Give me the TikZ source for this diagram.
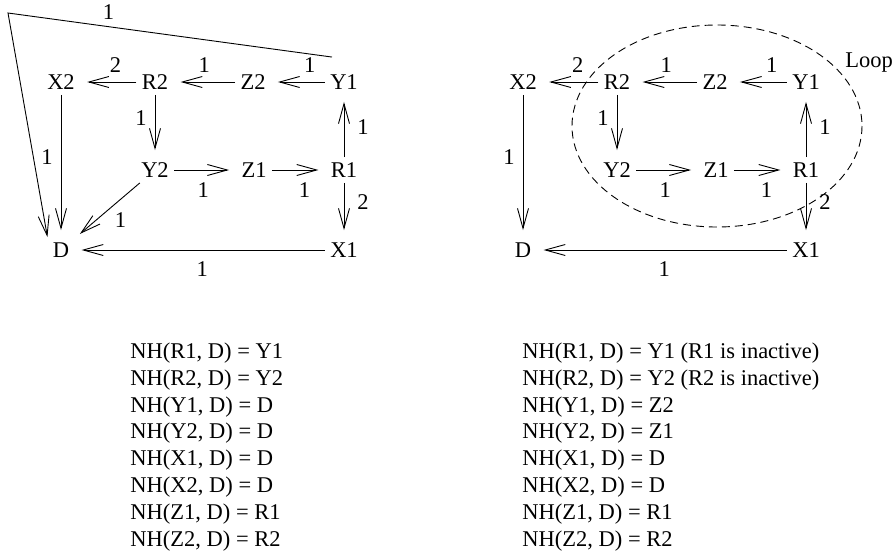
\documentclass[tikz,border=0pt]{standalone}
\usepackage{fontspec}
\setmainfont{Liberation Serif}
\usetikzlibrary{arrows.meta}

\begin{document}
\begin{tikzpicture}[x=1pt, y=-1pt, line width=0.9pt,
    >={Straight Barb[length=20pt, width=11pt]},
    font=\fontsize{22.5}{27}\selectfont,
    router/.style={inner xsep=5pt, inner ysep=5pt, text height=15pt, text depth=0pt},
    hop/.style={->, shorten >=7pt},
    cost/.style={inner sep=0pt}]
    \useasboundingbox (0,0) rectangle (894,552);

    % the same network twice, the right copy 462pt further on
    \foreach \s/\dx in {l/0, r/462} {
    \begin{scope}[xshift=\dx]
        \node[router] (\s X2) at (61,82) {X2};
        \node[router] (\s R2) at (155,82) {R2};
        \node[router] (\s Z2) at (253,82) {Z2};
        \node[router] (\s Y1) at (344,82) {Y1};
        \node[router] (\s Y2) at (155,170) {Y2};
        \node[router] (\s Z1) at (254,170) {Z1};
        \node[router] (\s R1) at (344,170) {R1};
        \node[router] (\s D) at (61,250) {D};
        \node[router] (\s X1) at (344,250) {X1};

        \draw[hop] (\s Y1) -- node[cost, above=9pt, pos=0.28] (\s c1) {1} (\s Z2);
        \draw[hop] (\s Z2) -- node[cost, above=9pt, pos=0.5] (\s c2) {1} (\s R2);
        \draw[hop] (\s R2) -- node[cost, above=9pt, pos=0.37] (\s c3) {2} (\s X2);
        \draw[hop] (\s R2) -- node[cost, left=8pt, pos=0.37] (\s c4) {1} (\s Y2);
        \draw[hop] (\s R1) -- node[cost, right=13pt, pos=0.48] (\s c5) {1} (\s Y1);
        \draw[hop] (\s Y2) -- node[cost, below=12pt, pos=0.47] (\s c6) {1} (\s Z1);
        \draw[hop] (\s Z1) -- node[cost, below=12pt, pos=0.61] (\s c7) {1} (\s R1);
        \draw[hop] (\s R1) -- node[cost, right=13pt, pos=0.35] (\s c8) {2} (\s X1);
        \draw[hop] (\s X1) -- node[cost, below=11pt, pos=0.49] (\s c9) {1} (\s D);
        \draw[hop] (\s X2) -- node[cost, left=8pt, pos=0.44] (\s c10) {1} (\s D);
    \end{scope}
    }

    % left only: the direct links of Y1 and Y2 to D
    \coordinate (topcorner) at (8,13);
    \draw[hop] (lY2) -- node[cost, below right=4pt, pos=0.45] (lc11) {1} (lD);
    \draw[->] ([shift={(-12pt,12pt)}]lY1.north)
        -- node[cost, above=7pt, pos=0.69] (lc12) {1} (topcorner) -- (lD.north west);

    % right only: the loop
    \draw[dash pattern=on 8pt off 5pt] (717,126) ellipse [x radius=145, y radius=101];
    \node[anchor=base west, inner sep=0pt] (looplabel) at (845,67) {Loop};

    % next-hop tables
    \foreach \entry [count=\i] in {{NH(R1, D) = Y1}, {NH(R2, D) = Y2}, {NH(Y1, D) = D},
        {NH(Y2, D) = D}, {NH(X1, D) = D}, {NH(X2, D) = D}, {NH(Z1, D) = R1}, {NH(Z2, D) = R2}}
        \node[anchor=base west, inner sep=0pt] (lt\i) at (130, {358.5+26.8*(\i-1)}) {\entry};
    \foreach \entry [count=\i] in {{NH(R1, D) = Y1 (R1 is inactive)}, {NH(R2, D) = Y2 (R2 is inactive)},
        {NH(Y1, D) = Z2}, {NH(Y2, D) = Z1}, {NH(X1, D) = D}, {NH(X2, D) = D},
        {NH(Z1, D) = R1}, {NH(Z2, D) = R2}}
        \node[anchor=base west, inner sep=0pt] (rt\i) at (522, {358.5+26.8*(\i-1)}) {\entry};
\end{tikzpicture}
\end{document}
